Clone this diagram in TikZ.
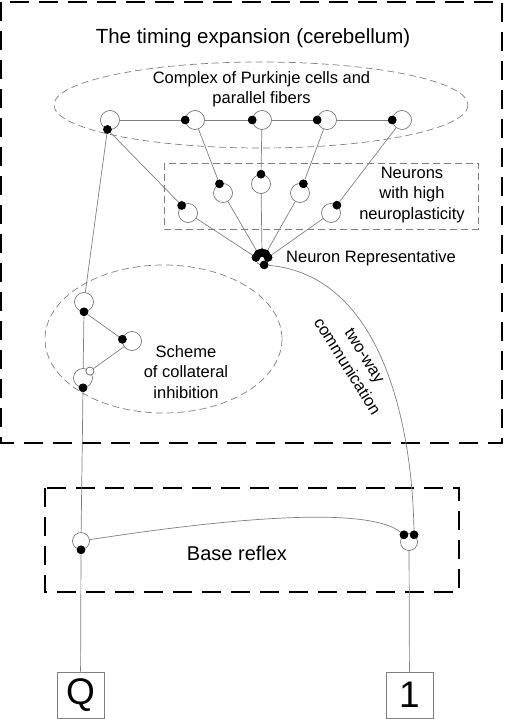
\documentclass[tikz,border=0pt]{standalone}
\usepackage{fontspec}
\setmainfont{Liberation Sans}
\definecolor{wiregray}{gray}{0.5}
\definecolor{cellgray}{gray}{0.4}
\begin{document}
\begin{tikzpicture}[x=1pt,y=-1pt,
        cell/.style={circle,draw=cellgray,fill=white,line width=0.6pt,minimum size=19pt,inner sep=0pt},
        syn/.style={circle,fill=black,minimum size=8.5pt,inner sep=0pt},
        wire/.style={draw=wiregray,line width=0.7pt},
        zone/.style={draw=gray,line width=0.7pt,dash pattern=on 7pt off 4pt},
        frame/.style={draw=black,line width=1.6pt,dash pattern=on 19pt off 10pt},
        lbl/.style={font=\fontsize{16.5}{20.5}\selectfont,align=center,inner sep=0pt},
        term/.style={draw=gray,line width=0.7pt,minimum width=47pt,minimum height=46pt,inner sep=0pt,font=\fontsize{37}{40}\selectfont}]
        \useasboundingbox (0,0) rectangle (504,719);
        \draw[frame] (1,2) rectangle (502,443);
        \draw[frame] (45,488) rectangle (459,592);
        \draw[zone] (261,105) ellipse [x radius=207,y radius=43];
        \draw[zone] (164,163) rectangle (478,229);
        \draw[zone] (163.5,339) ellipse [x radius=118.5,y radius=74];
        \node[font=\fontsize{20.5}{24}\selectfont] (title) at (253,38) {The timing expansion (cerebellum)};
        \node[lbl] (complex) at (261.5,89) {Complex of Purkinje cells and\\parallel fibers};
        \node[lbl] (plastic) at (412,195) {Neurons\\with high\\neuroplasticity};
        \node[lbl] (scheme) at (186,372) {Scheme\\of collateral\\inhibition};
        \node[font=\fontsize{20}{24}\selectfont] (base) at (237,553) {Base reflex};
        % Purkinje row
        \node[cell] (p1) at (110,120) {};
        \node[cell] (p2) at (195,120) {};
        \node[cell] (p3) at (262,120) {};
        \node[cell] (p4) at (327,120) {};
        \node[cell] (p5) at (402,120) {};
        % plastic row
        \node[cell] (n1) at (188,213) {};
        \node[cell] (n2) at (223,193) {};
        \node[cell] (n3) at (261,184) {};
        \node[cell] (n4) at (300,193) {};
        \node[cell] (n5) at (331,213) {};
        \node[cell,minimum size=12pt] (rep) at (262,259) {};
        \node[lbl,anchor=west] (replbl) at (286,258) {Neuron Representative};
        % collateral inhibition
        \node[cell] (ca) at (84,302) {};
        \node[cell] (cb) at (132,341) {};
        \node[cell] (cc) at (83,378) {};
        % base reflex
        \node[cell,minimum size=17pt] (q1) at (81,541) {};
        \node[cell,minimum size=17pt] (q2) at (409,542) {};
        \node[term] (Q) at (80.5,695) {Q};
        \node[term] (one) at (409.5,695) {1};
        % synapses
        \node[syn] (s1) at (p1.-105) {};
        \node[syn] (s2) at (p2.west) {};
        \node[syn] (s3) at (p3.west) {};
        \node[syn] (s4) at (p4.west) {};
        \node[syn] (s5) at (p5.west) {};
        \node[syn] (t1) at (n1.130) {};
        \node[syn] (t2) at (n2.111) {};
        \node[syn] (t3) at (n3.90) {};
        \node[syn] (t4) at (n4.70) {};
        \node[syn] (t5) at (n5.53) {};
        \node[syn] (r1) at (rep.165) {};
        \node[syn] (r2) at (rep.125) {};
        \node[syn] (r3) at (rep.90) {};
        \node[syn] (r4) at (rep.55) {};
        \node[syn] (r5) at (rep.15) {};
        \node[syn] (rb) at (rep.-70) {};
        \node[syn] (sa) at (ca.-90) {};
        \node[syn] (sb) at (cb.170) {};
        \node[cell,minimum size=8pt] (sc) at (cc.45) {};
        \node[syn] (sd) at (cc.-90) {};
        \node[syn] (qd) at (q1.-90) {};
        \node[syn] (qa) at (q2.125) {};
        \node[syn] (qb) at (q2.55) {};
        % connections
        \draw[wire] (p1) -- (s2) (p2) -- (s3) (p3) -- (s4) (p4) -- (s5);
        \draw[wire] (s1) -- (t1) (p2) -- (t2) (p3) -- (t3) (p4) -- (t4) (p5) -- (t5);
        \draw[wire] (n1) -- (r1) (n2) -- (r2) (n3) -- (r3) (n4) -- (r4) (n5) -- (r5);
        \draw[wire] (s1) -- (ca) (sa) -- (cc) (sa) -- (sb) (cb) -- (sc);
        \draw[wire] (sd) -- (q1) (qd) -- (Q) (q2) -- (one);
        \draw[wire] (q1) .. controls (250,515) and (370,508) .. (qa);
        \draw[wire] (rb) .. controls (380,275) and (412,420) .. (qb);
        \node[lbl,rotate=-58] (commlbl) at (356,361) {two-way\\communication};
        % redraw synapses over wires
        \foreach \s in {s1,s2,s3,s4,s5,t1,t2,t3,t4,t5,r1,r2,r3,r4,r5,rb,sa,sb,sd,qd,qa,qb}
                \fill (\s) circle (4.25pt);
        \draw[cellgray,fill=white,line width=0.6pt] (sc) circle (4pt);
\end{tikzpicture}
\end{document}
